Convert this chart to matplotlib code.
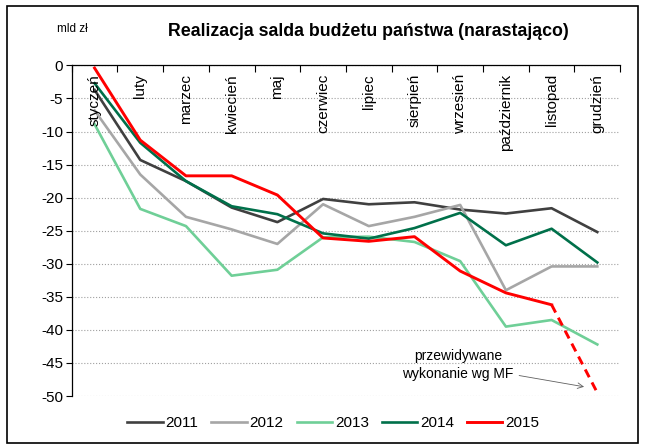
import matplotlib.pyplot as plt
from matplotlib.patches import Rectangle

plt.rcParams['font.family'] = ['Liberation Sans', 'DejaVu Sans']
plt.rcParams['axes.unicode_minus'] = False

months = ['styczeń', 'luty', 'marzec', 'kwiecień', 'maj', 'czerwiec',
          'lipiec', 'sierpień', 'wrzesień', 'październik', 'listopad', 'grudzień']

s2011 = [-3.7, -14.3, -17.5, -21.5, -23.7, -20.2, -21.0, -20.7, -21.8, -22.4, -21.6, -25.2]
s2012 = [-6.8, -16.5, -22.9, -24.8, -27.0, -21.0, -24.3, -22.9, -21.1, -34.0, -30.4, -30.4]
s2013 = [-8.9, -21.7, -24.3, -31.8, -30.9, -26.0, -25.9, -26.7, -29.6, -39.5, -38.5, -42.2]
s2014 = [-2.7, -11.7, -17.5, -21.3, -22.5, -25.4, -26.2, -24.6, -22.3, -27.2, -24.7, -29.8]
s2015 = [-0.4, -11.3, -16.7, -16.7, -19.6, -26.1, -26.6, -25.9, -31.1, -34.4, -36.2]
forecast_2015 = -49.5

x = list(range(len(months)))

fig = plt.figure(figsize=(6.46, 4.48), dpi=100)
ax = fig.add_axes([0.111, 0.116, 0.849, 0.738])

ax.plot(x, s2011, color='#404040', lw=1.9, label='2011')
ax.plot(x, s2012, color='#a6a6a6', lw=1.9, label='2012')
ax.plot(x, s2013, color='#6fcf97', lw=1.9, label='2013')
ax.plot(x, s2014, color='#00704a', lw=1.9, label='2014')
ax.plot(x[:len(s2015)], s2015, color='#ff0000', lw=2.1, label='2015')
ax.plot([x[len(s2015) - 1], x[-1]], [s2015[-1], forecast_2015],
        color='#ff0000', lw=2.1, ls=(0, (3, 2)))

ax.set_xlim(-0.5, 11.5)
ax.set_ylim(-50, 0)
ax.set_yticks(range(-50, 1, 5))
ax.tick_params(axis='y', labelsize=11, length=4, width=0.8, direction='out', pad=2)
ax.yaxis.grid(True, color='#a0a0a0', ls=':', lw=0.8)
ax.set_axisbelow(True)

# ticks on the zero line between months, labels inside the plot
ax.xaxis.tick_top()
ax.set_xticks([i - 0.5 for i in range(len(months) + 1)])
ax.set_xticklabels([])
ax.tick_params(axis='x', direction='in', length=5, width=0.8)
for i, m in enumerate(months):
    ax.text(i, -1.3, m, rotation=90, ha='center', va='top', fontsize=11)

for side in ['right', 'bottom']:
    ax.spines[side].set_visible(False)
ax.spines['top'].set_linewidth(0.9)
ax.spines['left'].set_linewidth(0.9)

ax.text(7.95, -45.3, 'przewidywane\nwykonanie wg MF', ha='center', va='center',
        fontsize=10, linespacing=1.35)
ax.annotate('', xy=(10.71, -48.6), xytext=(9.29, -46.9),
            arrowprops=dict(arrowstyle='->', color='#606060', lw=0.6,
                            shrinkA=0, shrinkB=0))

fig.text(0.112, 0.935, 'mld zł', ha='center', va='center', fontsize=8.5)
fig.text(0.57, 0.929, 'Realizacja salda budżetu państwa (narastająco)',
         ha='center', va='center', fontsize=12.8, fontweight='bold')

handles, labels = ax.get_legend_handles_labels()
fig.legend(handles, labels, loc='center', bbox_to_anchor=(0.516, 0.056), ncol=5,
           frameon=False, fontsize=11, handlelength=2.3,
           columnspacing=0.85, handletextpad=0.2)

fig.patches.append(Rectangle((0.011, 0.011), 0.976, 0.975, transform=fig.transFigure,
                             fill=False, edgecolor='black', lw=1.2))

fig.savefig('out.png', dpi=100)
